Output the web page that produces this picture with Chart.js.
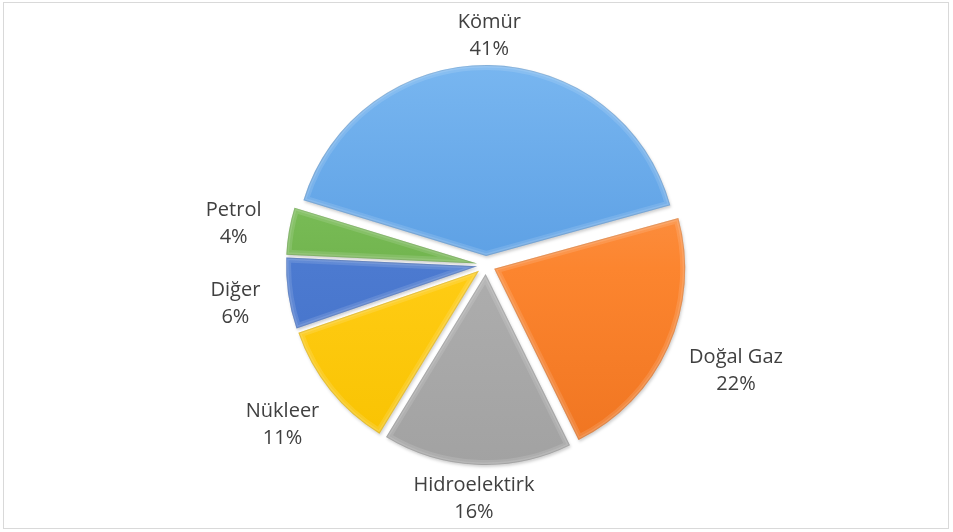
<!DOCTYPE html>
<html>
<head>
<meta charset="utf-8">
<script src="https://cdn.jsdelivr.net/npm/chart.js@4.4.1/dist/chart.umd.min.js"></script>
<style>
html, body { margin: 0; padding: 0; background: #fff; }
#frame { position: absolute; left: 3px; top: 2px; width: 946px; height: 527px; border: 1px solid #d9d9d9; box-sizing: border-box; }
#wrap { position: absolute; left: 0; top: 0; width: 953px; height: 532px; }
</style>
</head>
<body>
<div id="frame"></div>
<div id="wrap"><canvas id="pieChart"></canvas></div>
<script>
// data
const categories = ["Kömür", "Doğal Gaz", "Hidroelektirk", "Nükleer", "Diğer", "Petrol"];
const shares = [41, 22, 16, 11, 6, 4];
// light / mid / dark stop for every slice
const topColors = ["#78b6f0", "#fba060", "#bebebe", "#ffdb45", "#5e8bdc", "#88cb66"];
const midColors = ["#5ea1e5", "#fc852f", "#adadad", "#ffcc14", "#4c7ad0", "#72b54f"];
const lowColors = ["#4f93da", "#ef7420", "#a2a2a2", "#f8c200", "#416fc6", "#62a443"];

const EXPLODE = 9; // px every slice is pulled out

// vertical gradient per slice, lighter on top
function sliceFill(context) {
    const chart = context.chart;
    const area = chart.chartArea;
    const i = context.dataIndex;
    if (!area) return midColors[i];
    const g = chart.ctx.createLinearGradient(0, area.top, 0, area.bottom);
    g.addColorStop(0, topColors[i]);
    g.addColorStop(0.5, midColors[i]);
    g.addColorStop(1, lowColors[i]);
    return g;
}

// draws the arcs pulled out from the centre, with a light shadow and rim
const explodePlugin = {
    id: "explode",
    beforeDatasetDraw(chart, args) {
        const ctx = chart.ctx;
        args.meta.data.forEach(arc => {
            const p = arc.getProps(["x", "y", "startAngle", "endAngle", "outerRadius"], true);
            const mid = (p.startAngle + p.endAngle) / 2;
            const tx = Math.cos(mid) * EXPLODE, ty = Math.sin(mid) * EXPLODE;

            ctx.save();
            ctx.translate(tx, ty);
            ctx.shadowColor = "rgba(0,0,0,0.18)";
            ctx.shadowBlur = 3;
            ctx.shadowOffsetX = 1;
            ctx.shadowOffsetY = 2;
            arc.draw(ctx);
            ctx.restore();

            // bevel rim
            const path = () => {
                ctx.beginPath();
                ctx.moveTo(p.x, p.y);
                ctx.arc(p.x, p.y, p.outerRadius, p.startAngle, p.endAngle);
                ctx.closePath();
            };
            ctx.save();
            ctx.translate(tx, ty);
            path();
            ctx.clip();
            ctx.lineJoin = "round";
            ctx.strokeStyle = "rgba(255,255,255,0.12)";
            ctx.lineWidth = 10;
            path();
            ctx.stroke();
            ctx.lineWidth = 5;
            path();
            ctx.stroke();
            ctx.strokeStyle = "rgba(0,0,0,0.10)";
            ctx.lineWidth = 2;
            path();
            ctx.stroke();
            ctx.restore();
        });
        return false;
    }
};

// labels outside the slices
const labelPlugin = {
    id: "outsideLabels",
    afterDatasetsDraw(chart) {
        const ctx = chart.ctx;
        const total = shares.reduce((a, b) => a + b, 0);
        ctx.save();
        ctx.font = '20px "Open Sans"';
        ctx.fillStyle = "#404040";
        ctx.textAlign = "center";
        ctx.textBaseline = "middle";
        chart.getDatasetMeta(0).data.forEach((arc, i) => {
            const p = arc.getProps(["x", "y", "startAngle", "endAngle", "outerRadius"], true);
            const a = (p.startAngle + p.endAngle) / 2;
            const dx = Math.cos(a), dy = Math.sin(a);
            const lines = [categories[i], Math.round(shares[i] / total * 100) + "%"];
            const w = Math.max(...lines.map(t => ctx.measureText(t).width));
            const lh = 27, h = lh * lines.length;
            const gap = 28 * Math.abs(dx) + 4 * Math.abs(dy);
            const r = p.outerRadius + EXPLODE + gap;
            const x = p.x + dx * r + dx * w / 2;
            const y = p.y + dy * r + dy * h / 2 + 2;
            lines.forEach((t, k) => ctx.fillText(t, x, y - h / 2 + lh / 2 + k * lh));
        });
        ctx.restore();
    }
};

new Chart(document.getElementById("pieChart"), {
    type: "pie",
    data: {
        labels: categories,
        datasets: [{
            data: shares,
            backgroundColor: sliceFill,
            borderWidth: 0,
            offset: 0,
            hoverOffset: 0
        }]
    },
    options: {
        responsive: true,
        maintainAspectRatio: false,
        animation: false,
        rotation: -73,
        layout: { padding: { top: 74, bottom: 76, left: 186, right: 167 } },
        plugins: {
            legend: { display: false },
            tooltip: { enabled: false }
        }
    },
    plugins: [explodePlugin, labelPlugin]
});
</script>
</body>
</html>
